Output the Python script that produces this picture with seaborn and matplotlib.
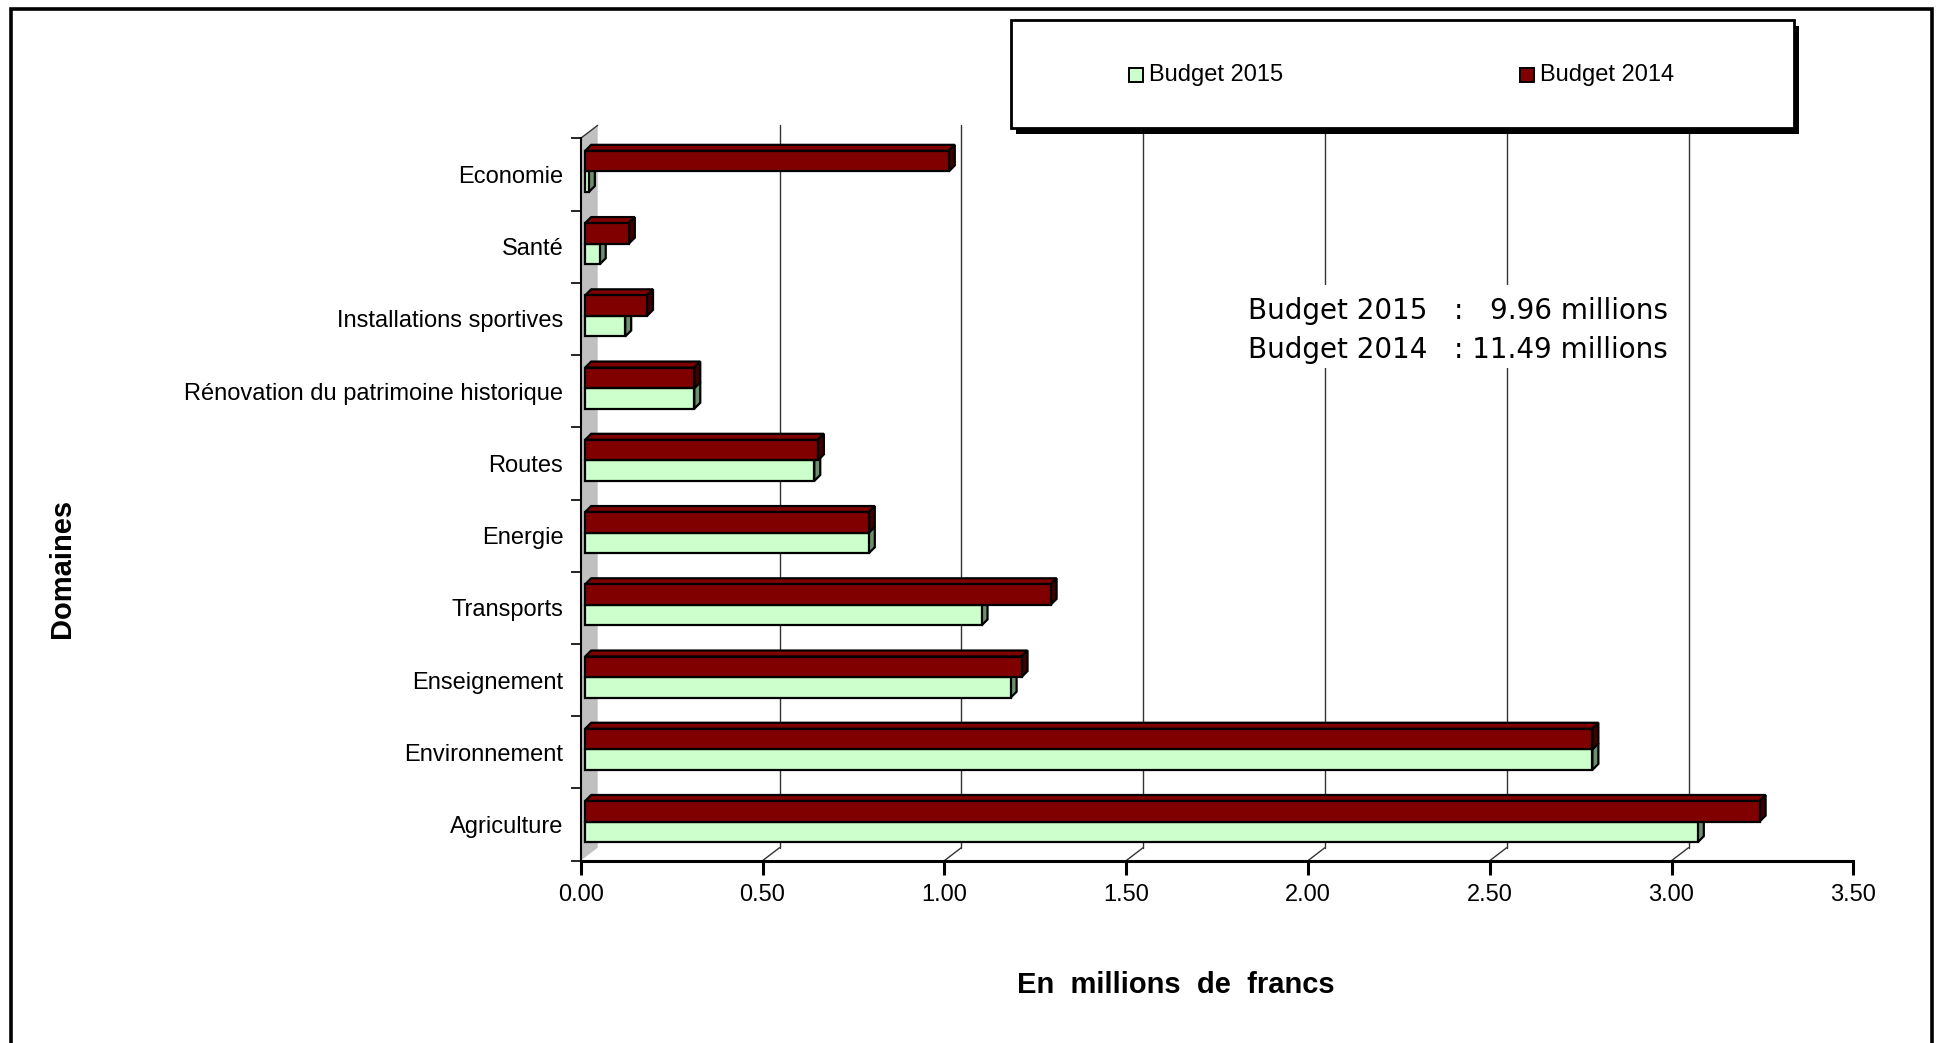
import numpy as np
import pandas as pd
import seaborn as sns
import matplotlib.pyplot as plt
from matplotlib.patches import Polygon, Rectangle

# données (en millions de francs)
domaines = ['Economie', 'Santé', 'Installations sportives',
            'Rénovation du patrimoine historique', 'Routes', 'Energie',
            'Transports', 'Enseignement', 'Environnement', 'Agriculture']
budget_2015 = [0.01, 0.04, 0.11, 0.30, 0.63, 0.78, 1.09, 1.17, 2.77, 3.06]
budget_2014 = [1.00, 0.12, 0.17, 0.30, 0.64, 0.78, 1.28, 1.20, 2.77, 3.23]
series = ['Budget 2015', 'Budget 2014']
x_ticks = [0.0, 0.5, 1.0, 1.5, 2.0, 2.5, 3.0, 3.5]

couleurs = {'Budget 2015': '#CCFFCC', 'Budget 2014': '#800000'}
cotes = {'Budget 2015': '#6E8F6E', 'Budget 2014': '#400000'}

df = pd.DataFrame({
    'Domaine': domaines * 2,
    'Budget': ['Budget 2014'] * len(domaines) + ['Budget 2015'] * len(domaines),
    'Valeur': budget_2014 + budget_2015,
})

sns.set_theme(style='white')
plt.rcParams['font.family'] = ['Liberation Sans', 'DejaVu Sans']

W, H = 1937, 1043
fig = plt.figure(figsize=(W / 100, H / 100), dpi=100)

# zone du graphique (plan avant), en pixels de l'image
gx0, gx1, gy0, gy1 = 580.7, 1853.3, 138.3, 860.7
ax = fig.add_axes([gx0 / W, 1 - gy1 / H, (gx1 - gx0) / W, (gy1 - gy0) / H])


def fig_rect(x, y, w, h, **kw):
    r = Rectangle((x / W, 1 - (y + h) / H), w / W, h / H,
                  transform=fig.transFigure, **kw)
    fig.add_artist(r)
    return r


sns.barplot(data=df, x='Valeur', y='Domaine', hue='Budget', order=domaines,
            hue_order=['Budget 2014', 'Budget 2015'], palette=couleurs,
            saturation=1, width=0.57, edgecolor='black', linewidth=1.6,
            orient='h', legend=False, ax=ax)
barres = list(ax.patches)

ax.set_xlim(0, 3.5)
ax.set_ylim(9.5, -0.5)

# décalages pseudo-3D (pixels -> unités des données)
px_x = (gx1 - gx0) / 3.5
px_y = (gy1 - gy0) / 10


def d(px, py):
    return px / px_x, py / px_y


fx, fy = d(4.5, -3)    # face avant des barres
bx, by = d(6, -6)      # épaisseur des barres
wx, wy = d(17, -13)    # fond du graphique

# paroi gauche grise
ax.add_patch(Polygon([(0, 9.5), (0, -0.5), (wx, -0.5 + wy), (wx, 9.5 + wy)],
                     closed=True, facecolor='#C0C0C0', edgecolor='none',
                     zorder=1, clip_on=False))
ax.plot([0, wx], [-0.5, -0.5 + wy], color='#333333', lw=1, zorder=1, clip_on=False)

# quadrillage au fond + traits du sol
for v in x_ticks[1:-1]:
    ax.plot([v + wx, v + wx], [9.5 + wy, -0.5 + wy], color='#333333', lw=1,
            zorder=1, clip_on=False)
    ax.plot([v, v + wx], [9.5, 9.5 + wy], color='#333333', lw=1,
            zorder=1, clip_on=False)

# faces 3D des barres
for p in barres:
    fc = p.get_facecolor()
    nom = 'Budget 2014' if fc[1] < 0.5 else 'Budget 2015'
    z = 4 if nom == 'Budget 2014' else 3
    x0, y0, w, h = p.get_x(), p.get_y(), p.get_width(), p.get_height()
    haut, bas = min(y0, y0 + h), max(y0, y0 + h)
    x0, x1 = x0 + fx, x0 + w + fx
    haut, bas = haut + fy, bas + fy
    p.set_x(x0)
    p.set_y(y0 + fy)
    p.set_zorder(z + 0.2)
    ax.add_patch(Polygon([(x0, haut), (x1, haut), (x1 + bx, haut + by), (x0 + bx, haut + by)],
                         closed=True, facecolor=couleurs[nom], edgecolor='black',
                         lw=1.6, zorder=z, clip_on=False))
    ax.add_patch(Polygon([(x1, haut), (x1, bas), (x1 + bx, bas + by), (x1 + bx, haut + by)],
                         closed=True, facecolor=cotes[nom], edgecolor='black',
                         lw=1.6, zorder=z + 0.1, clip_on=False))

# axes
for s in ['top', 'right']:
    ax.spines[s].set_visible(False)
ax.spines['left'].set_color('black')
ax.spines['left'].set_linewidth(1.5)
ax.spines['bottom'].set_color('black')
ax.spines['bottom'].set_linewidth(2.2)

ax.set_yticks(range(len(domaines)))
ax.set_yticklabels(domaines)
ax.set_yticks(np.arange(-0.5, len(domaines), 1), minor=True)
ax.tick_params(axis='y', which='major', length=0, pad=12.5, labelsize=17,
               labelcolor='black')
ax.tick_params(axis='y', which='minor', left=True, length=7, width=1.2,
               color='black', direction='out')
ax.set_xticks(x_ticks)
ax.set_xticklabels([f'{v:.2f}' for v in x_ticks])
ax.tick_params(axis='x', bottom=True, length=10, width=2.2, color='black',
               direction='out', pad=7, labelsize=17, labelcolor='black')
ax.set_xlabel('')
ax.set_ylabel('')

fig.text(1176 / W, 1 - 985 / H, 'En  millions  de  francs', ha='center', va='center',
         fontsize=21, fontweight='bold', color='black')
fig.text(62 / W, 1 - 568 / H, 'Domaines', ha='center', va='center', rotation=90,
         fontsize=21, fontweight='bold', color='black')

# encadré des totaux
fig_rect(1238, 285, 440, 83, facecolor='white', edgecolor='none', zorder=5)
fig.text(1248 / W, 1 - 311 / H, 'Budget 2015   :   9.96 millions', ha='left',
         va='center', fontsize=20, family=['DejaVu Sans'], color='black', zorder=6)
fig.text(1248 / W, 1 - 350 / H, 'Budget 2014   : 11.49 millions', ha='left',
         va='center', fontsize=20, family=['DejaVu Sans'], color='black', zorder=6)

# légende
fig_rect(1016, 26, 783, 108, facecolor='black', edgecolor='none', zorder=7)
fig_rect(1010.5, 20, 783, 108, facecolor='white', edgecolor='black', lw=2, zorder=8)
for nom, xc in zip(series, [1129, 1520]):
    fig_rect(xc, 68, 14, 14, facecolor=couleurs[nom], edgecolor='black', lw=1.4, zorder=9)
    fig.text((xc + 20) / W, 1 - 75.5 / H, nom, ha='left', va='center',
             fontsize=17, color='black', zorder=9)

# cadre extérieur
fig_rect(10.5, 8.5, 1921, 1050, facecolor='none', edgecolor='black', lw=2.6, zorder=10)

fig.savefig('out.png', dpi=100)
